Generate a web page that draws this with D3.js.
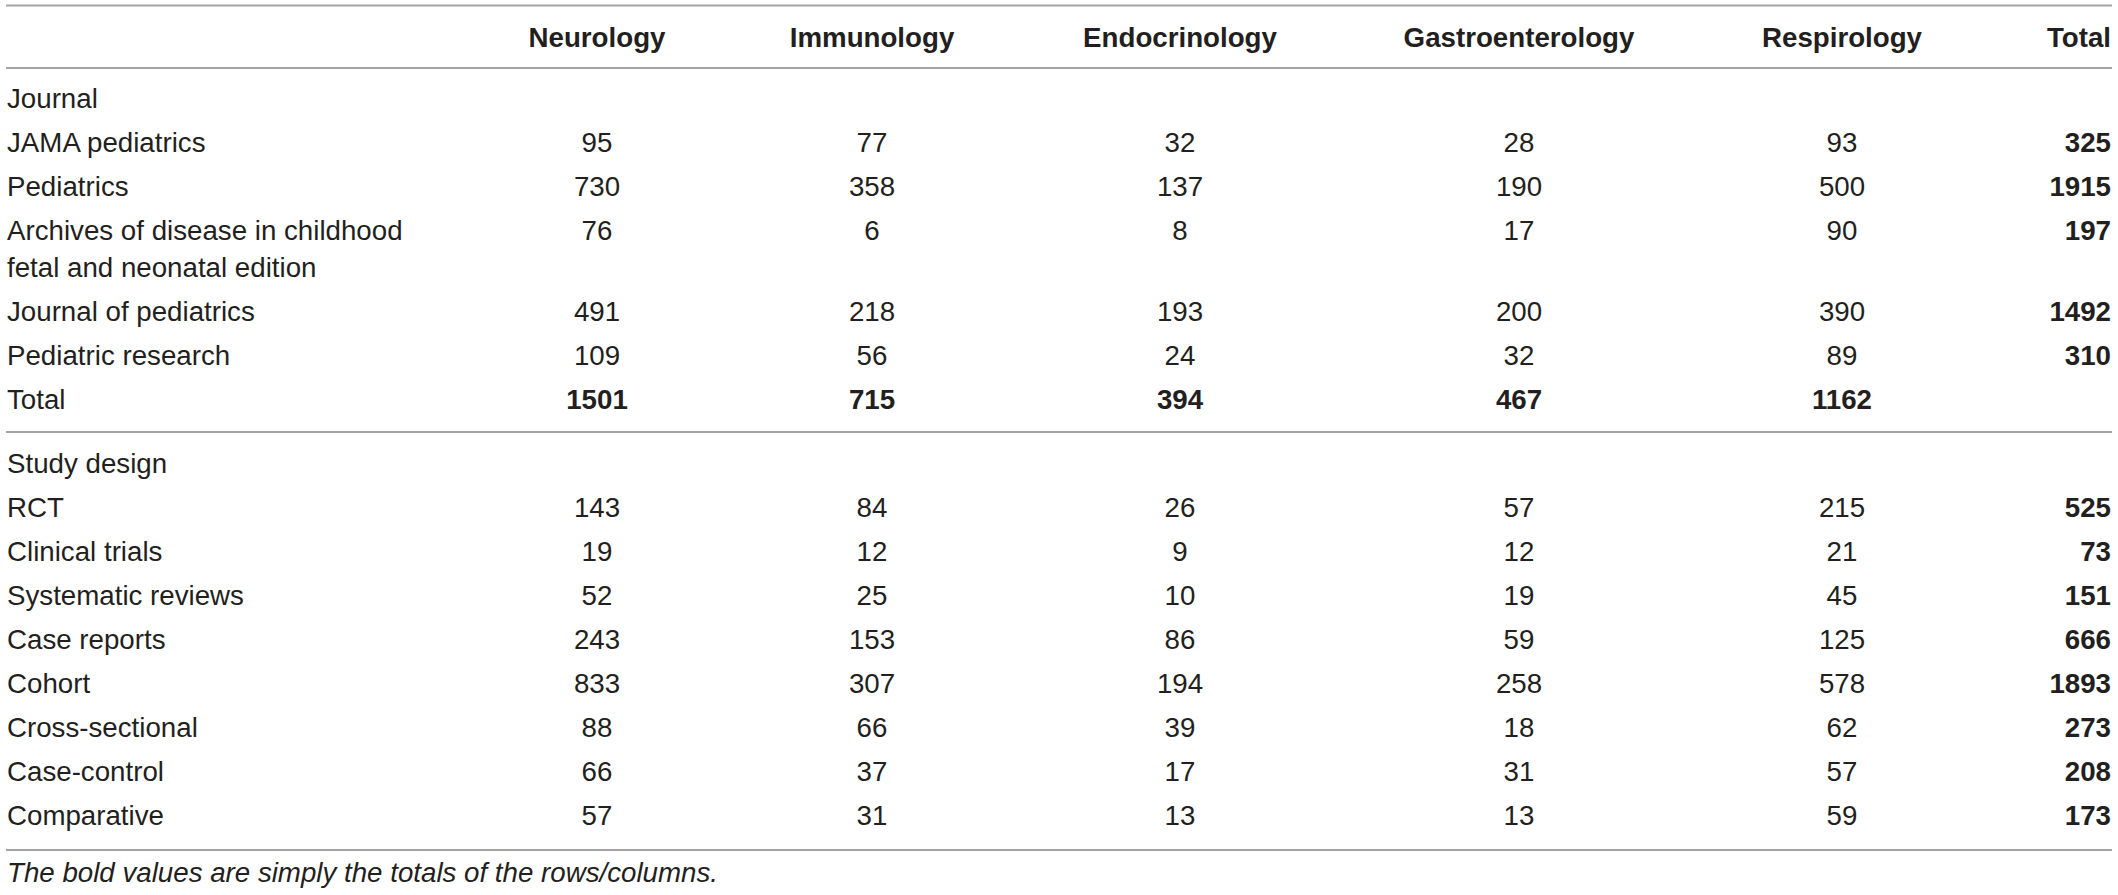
<!DOCTYPE html>
<html>
<head>
<meta charset="utf-8">
<script src="https://cdn.jsdelivr.net/npm/d3@7"></script>
<style>
  html, body { margin: 0; padding: 0; background: #fff; }
  svg text { font-family: "Liberation Sans", Arial, Helvetica, sans-serif; fill: #231f20; }
</style>
</head>
<body>
<svg id="tbl"></svg>
<script>
// column headers
var specialties = ["Neurology", "Immunology", "Endocrinology", "Gastroenterology", "Respirology"];

// journal section
var journals = ["JAMA pediatrics", "Pediatrics", "Archives of disease in childhood\nfetal and neonatal edition", "Journal of pediatrics", "Pediatric research"];
var journalCounts = [
  [95, 77, 32, 28, 93],
  [730, 358, 137, 190, 500],
  [76, 6, 8, 17, 90],
  [491, 218, 193, 200, 390],
  [109, 56, 24, 32, 89]
];
var journalTotals = [325, 1915, 197, 1492, 310];
var specialtyTotals = [1501, 715, 394, 467, 1162];

// study design section
var designs = ["RCT", "Clinical trials", "Systematic reviews", "Case reports", "Cohort", "Cross-sectional", "Case-control", "Comparative"];
var designCounts = [
  [143, 84, 26, 57, 215],
  [19, 12, 9, 12, 21],
  [52, 25, 10, 19, 45],
  [243, 153, 86, 59, 125],
  [833, 307, 194, 258, 578],
  [88, 66, 39, 18, 62],
  [66, 37, 17, 31, 57],
  [57, 31, 13, 13, 59]
];
var designTotals = [525, 73, 151, 666, 1893, 273, 208, 173];

var footnote = "The bold values are simply the totals of the rows/columns.";

var width = 2118, height = 895
  , fontSize = 27.7
  , left = 7, right = 2111
  , pitch = 44, wrapLine = 37
  , ruleColor = "#a3a3a3";

var svg = d3.select("#tbl")
    .attr("width", width)
    .attr("height", height);

// x position of each specialty column (centred text)
var x = d3.scaleOrdinal()
    .domain(specialties)
    .range([597, 872, 1180, 1519, 1842]);

// build the list of body rows
var rows = [];
rows.push({label: "Journal", values: null});
journals.forEach(function(j, i){
  rows.push({label: j, values: journalCounts[i], total: journalTotals[i]});
});
rows.push({label: "Total", values: specialtyTotals, bold: true});
rows.push({rule: true});
rows.push({label: "Study design", values: null});
designs.forEach(function(d, i){
  rows.push({label: d, values: designCounts[i], total: designTotals[i]});
});

// baselines, accumulated row by row
var y = 108, prevLines = 1, ruleY = [];
rows.forEach(function(r, i){
  if (r.rule) {
    ruleY.push(y + 23);
    y += 20;
    return;
  }
  if (i > 0) y += pitch + (prevLines - 1) * wrapLine;
  r.y = y;
  r.lines = r.label.split("\n");
  prevLines = r.lines.length;
});

// horizontal rules
var rules = [5.5, 68].concat(ruleY).concat([850]);
svg.selectAll(".rule")
    .data(rules)
   .enter().append("line")
    .attr("class", "rule")
    .attr("x1", left - 1)
    .attr("x2", right + 1)
    .attr("y1", d => d)
    .attr("y2", d => d)
    .attr("stroke", ruleColor)
    .attr("stroke-width", 2);

// header
var header = svg.append("g").attr("class", "header");
header.selectAll("text")
    .data(specialties)
   .enter().append("text")
    .attr("x", d => x(d))
    .attr("y", 47)
    .attr("text-anchor", "middle")
    .attr("font-size", fontSize)
    .attr("font-weight", "bold")
    .text(d => d);
header.append("text")
    .attr("x", right)
    .attr("y", 47)
    .attr("text-anchor", "end")
    .attr("font-size", fontSize)
    .attr("font-weight", "bold")
    .text("Total");

// body rows
var body = svg.append("g").attr("class", "body")
  .selectAll(".row")
  .data(rows.filter(r => !r.rule))
 .enter().append("g")
  .attr("class", "row")
  .attr("transform", d => "translate(0," + d.y + ")");

body.append("text")
    .attr("x", left)
    .attr("font-size", fontSize)
    .selectAll("tspan")
    .data(d => d.lines)
   .enter().append("tspan")
    .attr("x", left)
    .attr("dy", (d, i) => i ? wrapLine : 0)
    .text(d => d);

body.filter(d => d.values)
  .selectAll(".val")
  .data(d => d.values.map((v, i) => ({v: v, col: specialties[i], bold: d.bold})))
 .enter().append("text")
  .attr("class", "val")
  .attr("x", d => x(d.col))
  .attr("text-anchor", "middle")
  .attr("font-size", fontSize)
  .attr("font-weight", d => d.bold ? "bold" : "normal")
  .text(d => d.v);

body.filter(d => d.total != null)
  .append("text")
  .attr("x", right)
  .attr("text-anchor", "end")
  .attr("font-size", fontSize)
  .attr("font-weight", "bold")
  .text(d => d.total);

// footnote
svg.append("text")
    .attr("x", left)
    .attr("y", 882)
    .attr("font-size", fontSize)
    .attr("font-style", "italic")
    .text(footnote);
</script>
</body>
</html>
